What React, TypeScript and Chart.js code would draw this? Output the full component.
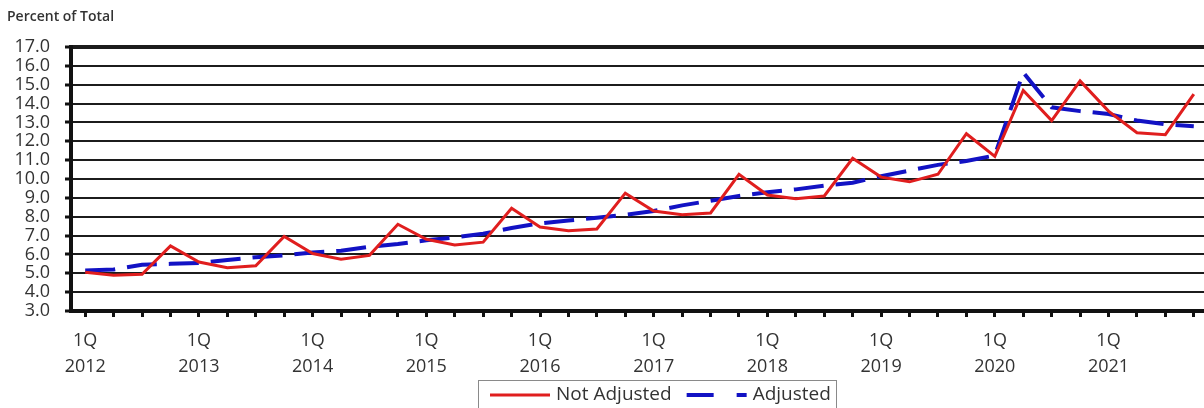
import React, { useEffect, useRef } from "react";
import { Chart, registerables } from "chart.js";

Chart.register(...registerables);

const years = ["2012", "2013", "2014", "2015", "2016", "2017", "2018", "2019", "2020", "2021"];
const quarters = ["1Q", "2Q", "3Q", "4Q"];
const categories: string[] = years.flatMap((y) => quarters.map((q) => `${q} ${y}`));

const notAdjusted = [
  5.05, 4.9, 4.95, 6.45,
  5.6, 5.3, 5.4, 6.95,
  6.05, 5.75, 5.95, 7.6,
  6.8, 6.5, 6.65, 8.45,
  7.45, 7.25, 7.35, 9.25,
  8.3, 8.1, 8.2, 10.25,
  9.15, 8.95, 9.1, 11.1,
  10.1, 9.85, 10.25, 12.4,
  11.2, 14.7, 13.1, 15.2,
  13.6, 12.45, 12.35, 14.5,
];

const adjusted = [
  5.15, 5.2, 5.45, 5.5,
  5.55, 5.7, 5.85, 5.95,
  6.1, 6.2, 6.4, 6.55,
  6.75, 6.9, 7.1, 7.4,
  7.65, 7.8, 7.95, 8.1,
  8.3, 8.6, 8.85, 9.1,
  9.3, 9.45, 9.65, 9.8,
  10.15, 10.45, 10.75, 10.95,
  11.25, 15.65, 13.8, 13.6,
  13.45, 13.1, 12.9, 12.8,
];

const seriesNames = ["Not Adjusted", "Adjusted"];
const yAxisTitle = "Percent of Total";
const yMin = 3;
const yMax = 17;

const FONT = "'Open Sans', 'DejaVu Sans', sans-serif";
const RED = "#e01e1e";
const BLUE = "#1212c4";

const extrasPlugin = {
  id: "extras",
  afterDraw(chart: any) {
    const ctx = chart.ctx as CanvasRenderingContext2D;
    ctx.save();
    // axis title at top-left
    ctx.font = `600 14px ${FONT}`;
    ctx.fillStyle = "#333";
    ctx.textAlign = "left";
    ctx.textBaseline = "middle";
    ctx.fillText(yAxisTitle, 7, 17);

    // legend box
    const boxLeft = 478.5;
    const boxTop = 380.5;
    const boxW = 358;
    const boxH = 40;
    ctx.strokeStyle = "#8a8a8a";
    ctx.lineWidth = 1;
    ctx.strokeRect(boxLeft, boxTop, boxW, boxH);

    ctx.font = `19px ${FONT}`;
    const cy = 395;
    let x = 490;
    chart.data.datasets.forEach((ds: any, i: number) => {
      ctx.beginPath();
      ctx.strokeStyle = ds.borderColor;
      ctx.lineWidth = ds.borderWidth;
      ctx.setLineDash(i === 1 ? [27, 23] : []);
      ctx.moveTo(x, cy);
      ctx.lineTo(x + 60, cy);
      ctx.stroke();
      ctx.setLineDash([]);
      x += 66;
      ctx.fillStyle = "#333";
      ctx.fillText(ds.label, x, cy);
      x += ctx.measureText(ds.label).width + 15;
    });
    ctx.restore();
  },
};

export default function App() {
  const canvasRef = useRef<HTMLCanvasElement | null>(null);

  useEffect(() => {
    if (!canvasRef.current) return;
    const chart = new Chart(canvasRef.current, {
      type: "line",
      data: {
        labels: categories,
        datasets: [
          {
            label: seriesNames[0],
            data: notAdjusted,
            borderColor: RED,
            backgroundColor: RED,
            borderWidth: 3,
            pointRadius: 0,
            tension: 0,
          },
          {
            label: seriesNames[1],
            data: adjusted,
            borderColor: BLUE,
            backgroundColor: BLUE,
            borderWidth: 4,
            borderDash: [30, 12],
            pointRadius: 0,
            tension: 0,
          },
        ],
      },
      options: {
        responsive: false,
        animation: false,
        devicePixelRatio: 1,
        layout: { padding: { top: 47, left: 0, right: 0, bottom: 0 } },
        plugins: {
          legend: { display: false },
          title: { display: false },
          tooltip: { enabled: false },
        },
        scales: {
          x: {
            type: "category",
            offset: true,
            afterFit(scale: any) {
              scale.height = 97;
            },
            grid: {
              display: true,
              drawOnChartArea: false,
              drawTicks: true,
              tickLength: 6,
              tickWidth: 3,
              tickColor: "#111",
              offset: false,
            },
            border: { display: true, color: "#111", width: 4 },
            ticks: {
              autoSkip: false,
              maxRotation: 0,
              minRotation: 0,
              padding: 11,
              color: "#333",
              font: { family: FONT, size: 18, lineHeight: "26px" },
              callback: (_v: any, i: number) =>
                i % 4 === 0 ? ["1Q", years[i / 4]] : "",
            },
          },
          y: {
            min: yMin,
            max: yMax,
            afterFit(scale: any) {
              scale.width = 71;
            },
            grid: {
              color: "#1c1c1c",
              lineWidth: (c: any) => (c.tick && c.tick.value === yMax ? 4 : 2),
              drawTicks: true,
              tickLength: 6,
              tickWidth: 3,
              tickColor: "#111",
            },
            border: { display: true, color: "#111", width: 4 },
            ticks: {
              stepSize: 1,
              autoSkip: false,
              padding: 15,
              color: "#333",
              font: { family: FONT, size: 18 },
              callback: (v: any) => Number(v).toFixed(1),
            },
          },
        },
      },
      plugins: [extrasPlugin],
    } as any);
    return () => chart.destroy();
  }, []);

  return (
    <div
      style={{
        position: "absolute",
        left: 0,
        top: 0,
        width: 1204,
        height: 408,
        overflow: "hidden",
        background: "#fff",
      }}
    >
      <canvas ref={canvasRef} width={1208} height={408} style={{ display: "block" }} />
    </div>
  );
}
